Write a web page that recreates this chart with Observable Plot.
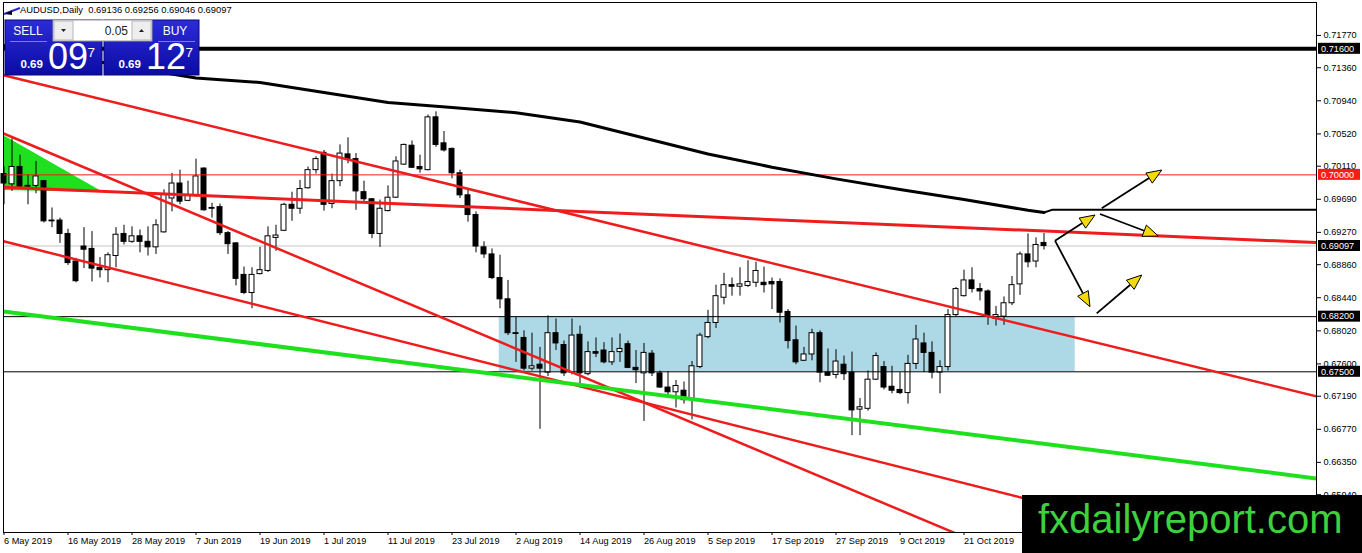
<!DOCTYPE html>
<html><head><meta charset="utf-8">
<script src="https://cdn.jsdelivr.net/npm/d3@7"></script>
<script src="https://cdn.jsdelivr.net/npm/@observablehq/plot@0.6"></script>
<style>html,body{margin:0;padding:0;background:#fff;overflow:hidden}</style>
</head><body><div id="chart"></div>
<script>
// ---- Data (AUDUSD daily, one candle per trading day; index 0 = 6 May 2019) ----
const opens = [0.7001,0.6988,0.7010,0.6986,0.6986,0.6992,0.6942,0.6942,0.6925,0.6890,
0.6909,0.6906,0.6882,0.6879,0.6897,0.6925,0.6915,0.6922,0.6915,0.6908,
0.6927,0.6970,0.6989,0.6967,0.6973,0.7008,0.6958,0.6959,0.6926,0.6913,
0.6873,0.6850,0.6874,0.6878,0.6920,0.6929,0.6962,0.6957,0.6983,0.7006,
0.7028,0.6963,0.6992,0.7026,0.7020,0.6978,0.6969,0.6925,0.6954,0.6971,
0.7013,0.7037,0.7010,0.7006,0.7073,0.7040,0.7033,0.7002,0.6974,0.6949,
0.6908,0.6899,0.6869,0.6842,0.6799,0.6793,0.6754,0.6759,0.6749,0.6799,
0.6784,0.6749,0.6797,0.6747,0.6775,0.6777,0.6762,0.6775,0.6785,0.6755,
0.6748,0.6773,0.6748,0.6730,0.6724,0.6726,0.6714,0.6756,0.6794,0.6812,
0.6844,0.6860,0.6858,0.6859,0.6863,0.6863,0.6864,0.6864,0.6826,0.6790,
0.6764,0.6772,0.6799,0.6749,0.6746,0.6759,0.6749,0.6702,0.6703,0.6740,
0.6756,0.6731,0.6727,0.6723,0.6760,0.6786,0.6774,0.6749,0.6756,0.6822,
0.6846,0.6866,0.6855,0.6852,0.6817,0.6820,0.6837,0.6861,0.6899,0.6890,
0.69136];
const highs = [0.7010,0.7046,0.7025,0.7000,0.7017,0.6993,0.6958,0.6945,0.6931,0.6894,
0.6933,0.6928,0.6895,0.6901,0.6933,0.6936,0.6934,0.6930,0.6934,0.6943,
0.6981,0.7002,0.7006,0.6992,0.7020,0.7009,0.6964,0.6963,0.6928,0.6914,
0.6883,0.6882,0.6908,0.6934,0.6936,0.6964,0.6978,0.6993,0.7010,0.7023,
0.7031,0.7001,0.7038,0.7047,0.7027,0.6992,0.6970,0.6968,0.6986,0.7023,
0.7039,0.7043,0.7025,0.7076,0.7080,0.7055,0.7034,0.7006,0.6981,0.6953,
0.6915,0.6906,0.6898,0.6866,0.6819,0.6802,0.6799,0.6781,0.6821,0.6817,
0.6789,0.6817,0.6808,0.6788,0.6793,0.6787,0.6793,0.6798,0.6789,0.6777,
0.6786,0.6777,0.6751,0.6750,0.6739,0.6737,0.6763,0.6799,0.6828,0.6860,
0.6875,0.6869,0.6882,0.6891,0.6889,0.6883,0.6869,0.6868,0.6829,0.6808,
0.6781,0.6804,0.6802,0.6779,0.6778,0.6770,0.6775,0.6716,0.6751,0.6774,
0.6763,0.6757,0.6749,0.6771,0.6809,0.6799,0.6788,0.6764,0.6829,0.6857,
0.6879,0.6882,0.6862,0.6854,0.6833,0.6845,0.6871,0.6902,0.6925,0.6920,
0.69256];
const lows = [0.6962,0.6979,0.6982,0.6962,0.6976,0.6939,0.6933,0.6913,0.6885,0.6863,
0.6881,0.6864,0.6869,0.6863,0.6882,0.6911,0.6913,0.6901,0.6897,0.6899,
0.6926,0.6953,0.6962,0.6966,0.6972,0.6954,0.6945,0.6923,0.6899,0.6859,
0.6848,0.6830,0.6873,0.6876,0.6903,0.6928,0.6941,0.6950,0.6982,0.7001,
0.6954,0.6957,0.6985,0.7014,0.6955,0.6965,0.6919,0.6908,0.6953,0.6970,
0.7012,0.7008,0.7002,0.7005,0.7035,0.7029,0.6995,0.6970,0.6940,0.6901,
0.6894,0.6867,0.6830,0.6796,0.6762,0.6751,0.6751,0.6677,0.6744,0.6777,
0.6744,0.6746,0.6735,0.6745,0.6768,0.6760,0.6758,0.6762,0.6754,0.6735,
0.6687,0.6744,0.6729,0.6716,0.6704,0.6709,0.6689,0.6754,0.6792,0.6805,
0.6835,0.6846,0.6846,0.6857,0.6857,0.6850,0.6829,0.6812,0.6779,0.6759,
0.6763,0.6764,0.6736,0.6744,0.6741,0.6739,0.6669,0.6669,0.6700,0.6739,
0.6727,0.6722,0.6721,0.6709,0.6753,0.6749,0.6741,0.6722,0.6751,0.6820,
0.6845,0.6850,0.6840,0.6809,0.6808,0.6809,0.6834,0.6847,0.6882,0.6882,
0.69046];
const closes = [0.6989,0.7010,0.6985,0.6985,0.6998,0.6941,0.6941,0.6925,0.6888,0.6865,
0.6905,0.6881,0.6879,0.6898,0.6924,0.6915,0.6922,0.6915,0.6908,0.6936,
0.6975,0.6989,0.6966,0.6974,0.6998,0.6955,0.6957,0.6926,0.6912,0.6868,
0.6850,0.6873,0.6879,0.6922,0.6923,0.6962,0.6957,0.6982,0.7006,0.7020,
0.6962,0.6992,0.7027,0.7020,0.6979,0.6969,0.6925,0.6957,0.6971,0.7017,
0.7038,0.7009,0.7007,0.7073,0.7038,0.7031,0.7002,0.6974,0.6949,0.6909,
0.6899,0.6869,0.6842,0.6799,0.6798,0.6754,0.6757,0.6754,0.6799,0.6786,
0.6748,0.6796,0.6748,0.6775,0.6773,0.6762,0.6775,0.6779,0.6755,0.6752,
0.6774,0.6748,0.6730,0.6724,0.6732,0.6714,0.6757,0.6796,0.6812,0.6846,
0.6860,0.6858,0.6861,0.6864,0.6878,0.6860,0.6861,0.6825,0.6789,0.6762,
0.6772,0.6799,0.6749,0.6745,0.6763,0.6747,0.6701,0.6705,0.6740,0.6770,
0.6730,0.6726,0.6723,0.6760,0.6791,0.6774,0.6749,0.6756,0.6822,0.6855,
0.6866,0.6855,0.6852,0.6820,0.6822,0.6837,0.6860,0.6899,0.6889,0.6911,
0.69097];

// Moving average (candle index, price)
const maIdx    = [0, 8, 16, 24, 32, 40, 48, 56, 64, 72, 80, 88, 96, 104, 112, 120, 128, 130];
const maPrices = [0.71642,0.71502,0.71363,0.71229,0.71172,0.71045,0.70918,0.70855,0.70789,
                  0.70671,0.70468,0.70265,0.70097,0.69949,0.69815,0.69686,0.69550,0.69522];
const maRayIdx = [130, 131, 164.06];
const maRayPrices = [0.69522, 0.69556, 0.69556];

// Horizontal levels
const bidPrice = 0.69097;
const majorLevel = [0.71600];
const roundLevel = [0.70000];
const zoneLevels = [0.68200, 0.67500];
const zoneIdx = [61.9, 133.9];

// Trend lines: [startIdx, startPrice, endIdx, endPrice]
const channelTop   = [-0.06, 0.71265, 164.06, 0.67187];
const steepLine    = [-0.06, 0.70525, 124.56, 0.65210];
const channelLow   = [-0.06, 0.69158, 129.56, 0.65841];
const flatLine     = [-0.06, 0.69843, 164.06, 0.69141];
const supportGreen = [-0.06, 0.68265, 164.06, 0.66146];
// Green triangle: idx, lower price, upper price
const triIdx = [-0.06, 12.44];
const triLo  = [0.69801, 0.69776];
const triHi  = [0.70499, 0.69776];

// Scenario arrows: [fromIdx, fromPrice, toIdx, toPrice]
const arrowSegs = [
  [131.44, 0.69158, 136.44, 0.69484],
  [137.28, 0.69569, 144.78, 0.70055],
  [137.06, 0.69497, 144.35, 0.69217],
  [131.44, 0.69158, 135.81, 0.68320],
  [136.65, 0.68236, 142.28, 0.68722]
];

// Axes
const yTicks = [0.71770,0.71360,0.70940,0.70520,0.70110,0.69690,0.69270,0.68860,0.68440,
                0.68020,0.67600,0.67190,0.66770,0.66350,0.65940];
const xTickIdx = [0,8,16,24,32,40,48,56,64,72,80,88,96,104,112,120];
const xTickLabels = ["6 May 2019","16 May 2019","28 May 2019","7 Jun 2019","19 Jun 2019","1 Jul 2019",
  "11 Jul 2019","23 Jul 2019","2 Aug 2019","14 Aug 2019","26 Aug 2019","5 Sep 2019","17 Sep 2019",
  "27 Sep 2019","9 Oct 2019","21 Oct 2019"];
const tagPrices = [0.71600, 0.70000, 0.69097, 0.68200, 0.67500];

// Texts
const headerText = "AUDUSD,Daily  0.69136 0.69256 0.69046 0.69097";
const lotSize = "0.05";
const sellQuote = ["0.69", "09", "7"];
const buyQuote = ["0.69", "12", "7"];
const watermark = "fxdailyreport.com";

// ---- Build tables ----
const candles = opens.map((o, i) => ({i, open: o, high: highs[i], low: lows[i], close: closes[i]}));
const bulls = candles.filter(d => d.close >= d.open);
const bears = candles.filter(d => d.close < d.open);
const ma = maIdx.map((i, k) => ({i, p: maPrices[k]}));
const maRay = maRayIdx.map((i, k) => ({i, p: maRayPrices[k]}));
const seg = s => [{i: s[0], p: s[1]}, {i: s[2], p: s[3]}];
const tri = triIdx.map((i, k) => ({i, lo: triLo[k], hi: triHi[k]}));
const zone = [{x1: zoneIdx[0], x2: zoneIdx[1], y1: zoneLevels[1], y2: zoneLevels[0]}];
const labelOf = new Map(xTickIdx.map((v, k) => [v, xTickLabels[k]]));

const FONT = "'Liberation Sans', Arial, sans-serif";
const RED = "#ee1c1c";

function arrowsMark(index, scales) {
  const g = d3.create("svg:g");
  for (const [i1, p1, i2, p2] of arrowSegs) {
    const x1 = scales.x(i1), y1 = scales.y(p1), x2 = scales.x(i2), y2 = scales.y(p2);
    const dx = x2 - x1, dy = y2 - y1, L = Math.hypot(dx, dy), ux = dx / L, uy = dy / L;
    const hl = 15, hw = 6;
    const bx = x2 - ux * hl, by = y2 - uy * hl;
    g.append("line").attr("x1", x1).attr("y1", y1).attr("x2", bx).attr("y2", by)
      .attr("stroke", "black").attr("stroke-width", 1.8);
    g.append("path")
      .attr("d", `M${x2},${y2}L${bx - uy * hw},${by + ux * hw}L${bx + uy * hw},${by - ux * hw}Z`)
      .attr("fill", "#f4d90c").attr("stroke", "black").attr("stroke-width", 1);
  }
  return g.node();
}

function tagsMark(index, scales, values, dim) {
  const g = d3.create("svg:g").attr("font-family", FONT).attr("font-size", 9.2).attr("text-anchor", "start");
  const x0 = dim.width - dim.marginRight + 2;
  for (const p of tagPrices) {
    const yy = scales.y(p);
    g.append("rect").attr("x", x0).attr("y", yy - 5.5).attr("width", 42).attr("height", 11)
      .attr("fill", p === roundLevel[0] ? "#ff1a1a" : "black");
    g.append("text").attr("x", x0 + 3).attr("y", yy).attr("dy", "0.36em")
      .attr("fill", "white").text(p.toFixed(5));
  }
  return g.node();
}

function panelMark(index, scales, values, dim) {
  const svg = d3.create("svg:g").attr("font-family", FONT).attr("text-anchor", "start");
  const defs = svg.append("defs");
  const gr = defs.append("linearGradient").attr("id", "pblue").attr("x1", 0).attr("y1", 0).attr("x2", 0).attr("y2", 1);
  gr.append("stop").attr("offset", "0%").attr("stop-color", "#2c2cd8");
  gr.append("stop").attr("offset", "100%").attr("stop-color", "#0b0ba4");
  // header
  svg.append("line").attr("x1", 4).attr("y1", 14).attr("x2", 20).attr("y2", 8).attr("stroke", "#2b2bd0").attr("stroke-width", 2);
  svg.append("path").attr("d", "M5,14L12,10.5L12,15Z").attr("fill", "black");
  svg.append("text").attr("x", 20).attr("y", 13).attr("font-size", 9.4).attr("fill", "black")
    .attr("xml:space", "preserve").text(headerText);
  // blue boxes
  svg.append("rect").attr("x", 5).attr("y", 20).attr("width", 97).attr("height", 55).attr("fill", "url(#pblue)").attr("stroke", "#08087a");
  svg.append("rect").attr("x", 104).attr("y", 20).attr("width", 95).attr("height", 55).attr("fill", "url(#pblue)").attr("stroke", "#08087a");
  svg.append("line").attr("x1", 10).attr("y1", 41.5).attr("x2", 47).attr("y2", 41.5).attr("stroke", "#7a7ae8");
  svg.append("line").attr("x1", 158).attr("y1", 41.5).attr("x2", 195).attr("y2", 41.5).attr("stroke", "#7a7ae8");
  svg.append("text").attr("x", 28).attr("y", 35).attr("text-anchor", "middle").attr("font-size", 12).attr("fill", "white").text("SELL");
  svg.append("text").attr("x", 175).attr("y", 35).attr("text-anchor", "middle").attr("font-size", 12).attr("fill", "white").text("BUY");
  // spinner
  svg.append("rect").attr("x", 53).attr("y", 20).attr("width", 99).attr("height", 21).attr("fill", "white").attr("stroke", "#9a9a9a");
  svg.append("rect").attr("x", 54).attr("y", 21).attr("width", 19).attr("height", 19).attr("fill", "#eeeeee").attr("stroke", "#b8b8b8");
  svg.append("rect").attr("x", 132).attr("y", 21).attr("width", 19).attr("height", 19).attr("fill", "#eeeeee").attr("stroke", "#b8b8b8");
  svg.append("path").attr("d", "M61,29L66,29L63.5,32Z").attr("fill", "#222");
  svg.append("path").attr("d", "M139,32L144,32L141.5,29Z").attr("fill", "#222");
  svg.append("text").attr("x", 128).attr("y", 35).attr("text-anchor", "end").attr("font-size", 12).attr("fill", "#222").text(lotSize);
  // quotes
  const q = (x0, arr) => {
    svg.append("text").attr("x", x0).attr("y", 68).attr("font-size", 11.5).attr("font-weight", "bold").attr("fill", "white").text(arr[0]);
    svg.append("text").attr("x", x0 + 27.5).attr("y", 68.5).attr("font-size", 36).attr("fill", "white").text(arr[1]);
    svg.append("text").attr("x", x0 + 67).attr("y", 56.5).attr("font-size", 13.5).attr("fill", "white").text(arr[2]);
  };
  q(20.5, sellQuote);
  q(118.5, buyQuote);
  return svg.node();
}

function watermarkMark(index, scales, values, dim) {
  const g = d3.create("svg:g").attr("text-anchor", "start");
  g.append("rect").attr("x", 1022).attr("y", 495).attr("width", dim.width - 1022).attr("height", dim.height - 495).attr("fill", "black");
  g.append("text").attr("x", 1038).attr("y", 533).attr("font-family", FONT).attr("font-size", 40)
    .attr("fill", "#3fd03f").text(watermark);
  return g.node();
}

const chart = Plot.plot({
  width: 1362,
  height: 553,
  marginLeft: 3,
  marginRight: 46,
  marginTop: 2,
  marginBottom: 21,
  style: {fontFamily: FONT, fontSize: "9.2px", background: "white", color: "black", overflow: "visible"},
  x: {type: "linear", domain: [-0.0625, 164.0625], axis: null},
  y: {type: "linear", domain: [0.65460, 0.72188], axis: null},
  marks: [
    Plot.ruleY([bidPrice], {stroke: "#c4c4c4", strokeWidth: 1}),
    Plot.rect(zone, {x1: "x1", x2: "x2", y1: "y1", y2: "y2", fill: "#add8e6"}),
    Plot.area(tri, {x1: "i", y1: "lo", y2: "hi", fill: "#1fe01f", clip: true}),
    Plot.ruleX(candles, {x: "i", y1: "low", y2: "high", stroke: "black", strokeWidth: 1}),
    Plot.rect(bulls, {x1: d => d.i - 0.31, x2: d => d.i + 0.31, y1: "open", y2: "close", fill: "white", stroke: "black", strokeWidth: 1}),
    Plot.rect(bears, {x1: d => d.i - 0.31, x2: d => d.i + 0.31, y1: "open", y2: "close", fill: "black", stroke: "black", strokeWidth: 1}),
    Plot.ruleY(zoneLevels, {stroke: "black", strokeWidth: 1}),
    Plot.ruleY(roundLevel, {stroke: RED, strokeWidth: 1}),
    Plot.line(seg(channelTop), {x: "i", y: "p", stroke: RED, strokeWidth: 2.5, clip: true}),
    Plot.line(seg(steepLine), {x: "i", y: "p", stroke: RED, strokeWidth: 2.5, clip: true}),
    Plot.line(seg(channelLow), {x: "i", y: "p", stroke: RED, strokeWidth: 2.5, clip: true}),
    Plot.line(seg(flatLine), {x: "i", y: "p", stroke: RED, strokeWidth: 3, clip: true}),
    Plot.line(seg(supportGreen), {x: "i", y: "p", stroke: "#1fe01f", strokeWidth: 4, clip: true}),
    Plot.line(ma, {x: "i", y: "p", stroke: "black", strokeWidth: 3, clip: true}),
    Plot.line(maRay, {x: "i", y: "p", stroke: "black", strokeWidth: 2, clip: true}),
    Plot.ruleY(majorLevel, {stroke: "black", strokeWidth: 4}),
    arrowsMark,
    Plot.frame({stroke: "black"}),
    Plot.axisY({anchor: "right", ticks: yTicks, tickSize: 4, tickPadding: 3, tickFormat: d => d.toFixed(5), fontSize: 9.2}),
    Plot.axisX({anchor: "bottom", ticks: xTickIdx, tickSize: 3, tickPadding: 2, textAnchor: "start", tickFormat: i => labelOf.get(i), fontSize: 9.2}),
    tagsMark,
    panelMark,
    watermarkMark
  ]
});
document.getElementById("chart").append(chart);
</script></body></html>
